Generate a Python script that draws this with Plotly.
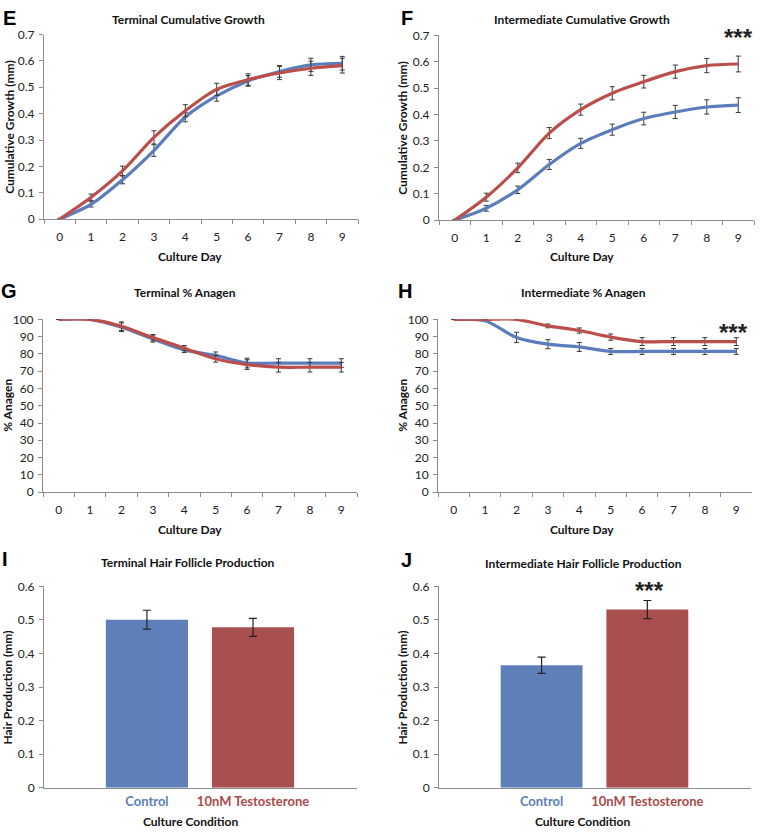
import plotly.graph_objects as go

# ---------------- data ----------------
days = [0, 1, 2, 3, 4, 5, 6, 7, 8, 9]

term_growth_ctrl = [0, 0.056, 0.149, 0.26, 0.387, 0.467, 0.524, 0.56, 0.585, 0.591]
term_growth_ctrl_err = [0, 0.01, 0.015, 0.022, 0.018, 0.02, 0.02, 0.022, 0.025, 0.026]
term_growth_test = [0, 0.083, 0.183, 0.31, 0.411, 0.492, 0.529, 0.554, 0.572, 0.582]
term_growth_test_err = [0, 0.012, 0.018, 0.025, 0.023, 0.023, 0.022, 0.025, 0.027, 0.028]

int_growth_ctrl = [0, 0.045, 0.115, 0.211, 0.291, 0.343, 0.385, 0.41, 0.429, 0.436]
int_growth_ctrl_err = [0, 0.011, 0.014, 0.019, 0.019, 0.021, 0.024, 0.025, 0.027, 0.028]
int_growth_test = [0, 0.087, 0.198, 0.33, 0.419, 0.481, 0.525, 0.563, 0.586, 0.592]
int_growth_test_err = [0, 0.015, 0.018, 0.021, 0.021, 0.025, 0.024, 0.025, 0.027, 0.03]

term_anagen_ctrl = [100, 100, 95.4, 88.6, 82.3, 79.1, 74.7, 74.7, 74.7, 74.7]
term_anagen_ctrl_err = [0, 0, 2.5, 1.8, 1.5, 2.0, 2.8, 2.5, 2.5, 2.5]
term_anagen_test = [100, 100, 96.0, 89.4, 83.3, 77.2, 73.8, 72.3, 72.3, 72.3]
term_anagen_test_err = [0, 0, 2.5, 1.8, 1.5, 2.0, 2.8, 2.8, 2.8, 2.8]

int_anagen_ctrl = [100, 99.2, 89.5, 85.6, 84.0, 81.4, 81.4, 81.4, 81.4, 81.4]
int_anagen_ctrl_err = [0, 0.5, 3.0, 2.6, 2.6, 1.7, 1.7, 1.7, 1.7, 1.7]
int_anagen_test = [100, 100, 100, 96.2, 93.5, 89.7, 87.1, 87.1, 87.1, 87.1]
int_anagen_test_err = [0, 0, 0, 1.1, 1.5, 1.8, 2.3, 2.3, 2.3, 2.3]

conditions = ["Control", "10nM Testosterone"]
term_production = [0.501, 0.478]
term_production_err = [0.028, 0.027]
int_production = [0.365, 0.531]
int_production_err = [0.024, 0.027]

# ---------------- styles ----------------
BLUE_LINE = "#5A7EBC"
RED_LINE = "#BB4E4B"
BLUE_BAR = "#5F7FBA"
RED_BAR = "#A84F4F"
BLUE_TXT = "#5B7EBA"
RED_TXT = "#A94B4B"
AXIS = "#8C8C8C"
FONT = "Lato"
W, H = 760, 835


def px_x(p):
    return p / W


def px_y(p):
    return 1 - p / H


fig = go.Figure()

line_panels = [
    ("", term_growth_ctrl, term_growth_ctrl_err, term_growth_test, term_growth_test_err),
    ("2", int_growth_ctrl, int_growth_ctrl_err, int_growth_test, int_growth_test_err),
    ("3", term_anagen_ctrl, term_anagen_ctrl_err, term_anagen_test, term_anagen_test_err),
    ("4", int_anagen_ctrl, int_anagen_ctrl_err, int_anagen_test, int_anagen_test_err),
]

for ax, c, ce, t, te in line_panels:
    for vals, errs, col in ((c, ce, BLUE_LINE), (t, te, RED_LINE)):
        fig.add_trace(go.Scatter(
            x=days, y=vals, mode="lines",
            line=dict(color=col, width=3.2, shape="spline", smoothing=0.8),
            error_y=dict(type="data", array=errs, visible=True,
                         color="#3A3A3A", thickness=1, width=2.5),
            xaxis="x" + ax, yaxis="y" + ax, showlegend=False,
        ))

for ax, vals, errs in (("5", term_production, term_production_err),
                       ("6", int_production, int_production_err)):
    fig.add_trace(go.Bar(
        x=conditions, y=vals,
        marker=dict(color=[BLUE_BAR, RED_BAR], line=dict(width=0)),
        error_y=dict(type="data", array=errs, visible=True,
                     color="#222222", thickness=1.2, width=4),
        xaxis="x" + ax, yaxis="y" + ax, showlegend=False,
    ))

tickfont = dict(family=FONT, size=12, color="#222222")

# panel geometry in pixels: (x0, x1, ytop, ybottom)
geo = {
    "": (44, 358, 27, 215),
    "2": (439, 754, 28, 216),
    "3": (43, 357, 317, 493),
    "4": (438, 752, 317, 493),
    "5": (44, 357, 589, 794),
    "6": (439, 751, 589, 794),
}

layout = dict(
    width=W, height=H,
    margin=dict(l=0, r=0, t=0, b=0),
    paper_bgcolor="white", plot_bgcolor="white",
    bargap=0.226,
    font=dict(family=FONT, color="#222222"),
)

for ax, (x0, x1, yt, yb) in geo.items():
    xa = dict(domain=[px_x(x0), px_x(x1)], anchor="y" + ax,
              showline=True, linecolor=AXIS, linewidth=1,
              showgrid=False, zeroline=False, tickfont=tickfont,
              fixedrange=True)
    ya = dict(domain=[px_y(yb), px_y(yt)], anchor="x" + ax,
              showline=True, linecolor=AXIS, linewidth=1,
              showgrid=False, zeroline=False, tickfont=tickfont,
              ticks="outside", ticklen=4, tickcolor=AXIS,
              ticklabelstandoff=2, fixedrange=True)
    if ax in ("", "2"):
        ya.update(range=[0, 0.7], dtick=0.1, tick0=0)
    elif ax in ("3", "4"):
        ya.update(range=[0, 100], dtick=10, tick0=0)
    else:
        ya.update(range=[0, 0.6], dtick=0.1, tick0=0)
    if ax in ("", "2", "3", "4"):
        xa.update(type="category", range=[-0.5, 9.5], tickson="boundaries",
                  ticks="outside", ticklen=4, tickcolor=AXIS,
                  ticklabelstandoff=6)
    else:
        xa.update(type="category", range=[-0.97, 1.98], ticks="",
                  tickvals=conditions,
                  ticktext=[f'<span style="color:{BLUE_TXT}"><b>{conditions[0]}</b></span>',
                            f'<span style="color:{RED_TXT}"><b>{conditions[1]}</b></span>'],
                  tickfont=dict(family=FONT, size=13), ticklabelstandoff=2)
    layout["xaxis" + ax] = xa
    layout["yaxis" + ax] = ya

fig.update_layout(**layout)

ann = []


def text(x, y, s, size=12, bold=True, angle=0, family=FONT, color="#111111"):
    ann.append(dict(x=px_x(x), y=px_y(y), xref="paper", yref="paper",
                    text=f"<b>{s}</b>" if bold else s, showarrow=False,
                    textangle=angle, xanchor="center", yanchor="middle",
                    font=dict(family=family, size=size, color=color)))


# titles
text(188, 12, "Terminal Cumulative Growth")
text(582, 12, "Intermediate Cumulative Growth")
text(185, 290, "Terminal % Anagen")
text(583, 290, "Intermediate % Anagen")
text(188, 565, "Terminal Hair Follicle Production")
text(583, 566, "Intermediate Hair Follicle Production")

# panel letters
for x, y, s in ((9, 10, "E"), (407, 10, "F"), (9, 288, "G"), (405, 288, "H"),
                (5, 561, "I"), (406, 562, "J")):
    text(x, y, s, size=20, family="Liberation Sans", color="#000000")

# y-axis titles
text(10, 121, "Cumulative Growth (mm)", angle=-90)
text(403, 122, "Cumulative Growth (mm)", angle=-90)
text(8, 405, "% Anagen", angle=-90)
text(403, 405, "% Anagen", angle=-90)
text(8, 692, "Hair Production (mm)", angle=-90)
text(403, 692, "Hair Production (mm)", angle=-90)

# x-axis titles
text(190, 253, "Culture Day")
text(582, 253, "Culture Day")
text(190, 531, "Culture Day")
text(582, 531, "Culture Day")
text(190, 828, "Culture Condition")
text(582, 828, "Culture Condition")

# significance markers
text(738, 30, "***", size=24, family="Liberation Sans", color="#222222")
text(733, 330, "***", size=24, family="Liberation Sans", color="#222222")
text(649, 593, "***", size=24, family="Liberation Sans", color="#222222")

fig.update_layout(annotations=ann)
fig.write_html(
    "out.html",
    config={"displayModeBar": False, "staticPlot": True},
    post_script="document.body.style.margin='0';document.body.style.overflow='hidden';",
)
